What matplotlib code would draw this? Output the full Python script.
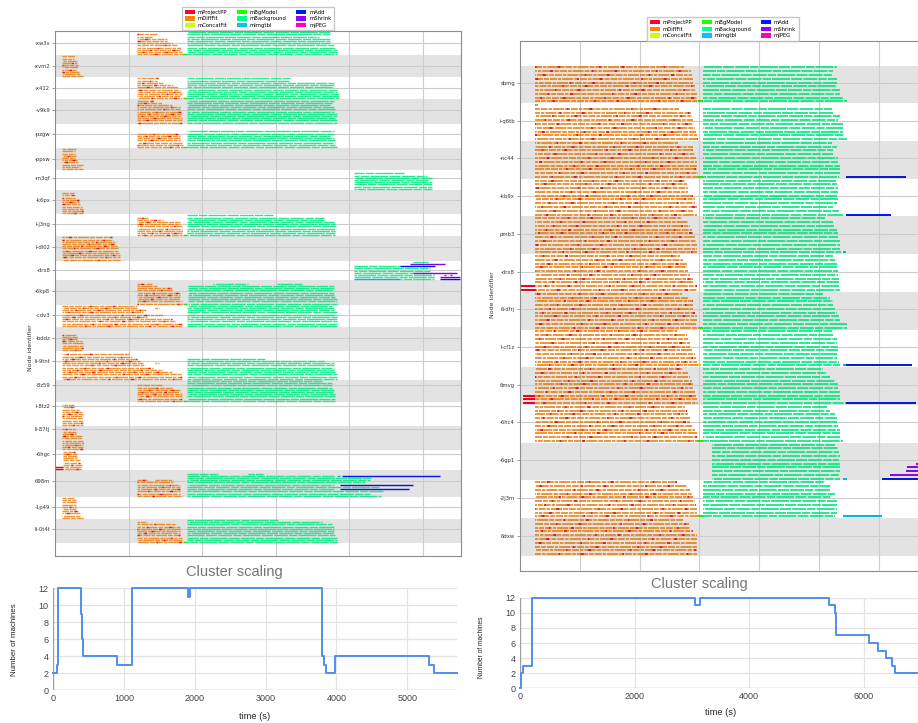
import numpy as np
import matplotlib.pyplot as plt
from matplotlib.patches import Patch

plt.rcParams['lines.scale_dashes'] = False

# ----------------------------------------------------------------------
# data (times in seconds)
# ----------------------------------------------------------------------
tasks = ["mProjectPP", "mDiffFit", "mConcatFit", "mBgModel", "mBackground",
         "mImgtbl", "mAdd", "mShrink", "mJPEG"]

# left run
left_nodes = ["-xw3v", "-xvm2", "-x412", "-v9k9", "-pzgw", "-ppsw", "-m3qf", "-k6px",
              "l-j3ng", "i-dl02", "-drx8", "-6kp8", "-cdv3", "-bddz", "li-9tnt", "-8z59",
              "l-8tz2", "li-87tj", "-6hgc", "698m", "-1p49", "li-0t4t"]
left_rows = [11, 10, 10, 11, 11, 10, 9, 11, 10, 11, 9, 11, 10, 11, 13, 10, 11, 11, 9, 12, 10, 11]
left_tick = [5.5, 4.7, 4.7, 5.0, 4.8, 4.8, 3.8, 4.7, 4.5, 4.8, 4.1, 4.8, 4.7, 5.2, 4.7,
             2.5, 2.0, 1.5, 1.7, 4.7, 4.5, 4.8]
left_early_start = [1120, 100, 1120, 1120, 1120, 91, None, 91, 1120, 91, None, 1111,
                    91, 91, 91, 1120, 91, 91, 113, 1120, 91, 1120]
left_early_end = [
    [1383, 1324, 1519, 1519, 1587, 1655, 1701, 1701, 1723, 1723],
    [272, 258, 304, 304, 317, 304, 304, 322, 340, 376],
    [1419, 1383, 1474, 1610, 1678, 1701, 1723, 1723, 1701, 1723],
    [1338, 1451, 1587, 1701, 1701, 1723, 1723, 1701, 1723, 1723, 1723],
    [1678, 1701, 1701, 1701, 1723, 1737, 1737],
    [286, 272, 272, 286, 272, 295, 317, 376, 340, 376],
    [],
    [258, 272, 272, 331, 331, 340, 363, 376, 376, 376],
    [1270, 1465, 1701, 1701, 1723, 1723, 1723, 1723, 1723],
    [771, 794, 816, 816, 839, 862, 862, 875, 884, 884, 884],
    [],
    [1315, 1383, 1587, 1587, 1701, 1701, 1701, 1701, 1723, 1723],
    [1111, 1111, 1247, 1202, 1474, 1247, 1587, 1633, 1723, 1723],
    [286, 295, 295, 363, 376, 376, 376, 376],
    [1020, 1043, 1111, 1156, 1202, 1224, 1338, 1474, 1587, 1723, 1723, 1723],
    [1451, 1610, 1701, 1701, 1723, 1723, 1723, 1723],
    [258, 272, 331, 363, 376, 376, 376, 385, 385, 385],
    [272, 286, 286, 363, 363, 385, 385, 385, 385, 385],
    [272, 295, 304, 304, 340, 340, 363, 363, 363],
    [1247, 1610, 1701, 1701, 1701, 1701, 1701, 1723],
    [258, 286, 286, 286, 286, 286, 317, 340, 340, 395],
    [1247, 1633, 1701, 1701, 1701, 1701, 1701, 1723, 1723, 1723],
]
left_bg_start = [1791, None, 1791, 1791, 1791, None, 4059, None, 1791, None, 4059, 1814,
                 1791, None, 1791, 1791, None, None, None, 1791, None, 1791]
left_bg_end = [
    [3741, 3741, 3583, 3741, 3741, 3741, 3787, 3809, 3832, 3832, 3832],
    [],
    [3197, 3175, 3787, 3787, 3787, 3832, 3832, 3855, 3855, 3855],
    [3787, 3764, 3741, 3787, 3809, 3787, 3832, 3832, 3809, 3832, 3832],
    [3787, 3787, 3741, 3787, 3809, 3809, 3809, 3832],
    [],
    [4739, 5057, 5125, 5070, 5125, 5125, 5125, 5125],
    [],
    [2970, 3651, 3651, 3809, 3809, 3823, 3823, 3809, 3800, 3800],
    [],
    [None, None, 4694, 5102, 5102, 4871, 5147, 5147, None],
    [3787, 3787, 3787, 3787, 3787, 3809, 3832, 3832, 3832],
    [3764, 3787, 3787, 3832, 3832, 3832, 3832, 3832, 3832, 3832],
    [],
    [2857, 3651, 3787, 3787, 3787, 3787, 3809, 3832, 3832, 3832],
    [3628, 3764, 3764, 3764, 3787, 3787, 3809, 3809, 3809, 3809],
    [],
    [],
    [],
    [None, 3787, 4308, 4286, 4218, 3787, 4399, 3787, 4458, 4277, 4435],
    [],
    [3038, 3628, 3764, 3787, 3787, 3787, 3787, 3809, 3832, 3832, 3832],
]
# (node, task, row counted from the bottom, start, end)
left_extra = [
    ("-xw3v", "mBgModel", 0, 1723, 1791),
    ("-x412", "mBgModel", 0, 1737, 1791),
    ("-pzgw", "mBgModel", 0, 1737, 1791),
    ("l-j3ng", "mBgModel", 0, 1737, 1791),
    ("-6kp8", "mBgModel", 0, 1737, 1791),
    ("-8z59", "mBgModel", 0, 1737, 1791),
    ("li-0t4t", "mBgModel", 0, 1737, 1791),
    ("-drx8", "mBackground", 8, 4870, 5065),
    ("-drx8", "mShrink", 7, 4821, 5306),
    ("-drx8", "mAdd", 6, 4694, 5170),
    ("-drx8", "mShrink", 3, 4871, 5469),
    ("-drx8", "mJPEG", 2, 5290, 5320),
    ("-drx8", "mJPEG", 2, 5370, 5395),
    ("-drx8", "mShrink", 1, 5238, 5510),
    ("-drx8", "mImgtbl", 0, 4059, 4694),
    ("-drx8", "mBackground", 0, 4694, 5147),
    ("-drx8", "mAdd", 0, 5238, 5510),
    ("-6kp8", "mBackground", 9, 2154, 2630),
    ("-6kp8", "mBackground", 9, 3016, 3356),
    ("-cdv3", "mDiffFit", 8, 1360, 1419),
    ("li-9tnt", "mDiffFit", 7, 1360, 1419),
    ("-6hgc", "mProjectPP", 1, 0, 113),
    ("-6hgc", "mProjectPP", 0, 0, 113),
    ("698m", "mDiffFit", 7, 1360, 1601),
    ("698m", "mBackground", 10, 1791, 2222),
    ("698m", "mBackground", 10, 2630, 2834),
    ("698m", "mImgtbl", 9, 3832, 3877),
    ("698m", "mAdd", 9, 3900, 5229),
    ("698m", "mAdd", 5, 3877, 4866),
    ("698m", "mAdd", 3, 3877, 4807),
]

# right run
right_nodes = ["sbmg", "i-q6tb", "-nc44", "-kb9x", "pmb3", "-drx8", "6-dfrj", "l-cf1z",
               "6mvg", "-6hc4", "-6gp1", "-2j3m", "6dxw"]
right_rows = [10, 10, 10, 10, 10, 10, 10, 10, 10, 10, 10, 10, 10]
right_tick = [4.6, 4.6, 4.6, 4.6, 4.6, 4.6, 4.6, 4.6, 4.6, 4.6, 4.6, 4.6, 4.6]
right_early_start = [251, 251, 251, 251, 251, 251, 251, 251, 251, 251, None, 251, 251]
right_early_end = [
    [2742, 2854, 2871, 2898, 2898, 2926, 2937, 2965, 2965, 2982],
    [306, 2664, 2854, 2871, 2898, 2898, 2926, 2954, 2965, 2982],
    [2648, 2898, 2898, 2926, 2943, 2954, 2965, 2965, 2982, 2982],
    [2759, 2787, 2815, 2815, 2898, 2926, 2926, 2965, 2898, 2954],
    [2703, 2815, 2843, 2871, 2898, 2926, 2943, 2965, 2965, 2965],
    [2676, 2731, 2787, 2798, 2815, 2843, 2898, 2898, 2965, 2965],
    [2703, 2832, 2898, 2898, 2898, 2926, 2954, 2954, 2965, 2999],
    [2620, 2787, 2815, 2843, 2843, 2898, 2926, 2943, 2965, 2982],
    [2731, 2815, 2843, 2871, 2898, 2898, 2926, 2954, 2965, 2982],
    [2759, 2787, 2815, 2843, 2843, 2898, 2926, 2954, 2954, 2965],
    [],
    [2620, 2787, 2843, 2871, 2898, 2926, 2943, 2965, 2965, 2982],
    [2720, 2832, 2843, 2898, 2954, 2965, 2965, 2965, 2965, 2982],
]
right_bg_start = [3054, 3054, 3054, 3054, 3054, 3054, 3054, 3054, 3054, 3054, 3205, 3054, None]
right_bg_end = [
    [5295, 5228, 5240, 5295, 5295, 5295, 5351, 5351, 5407, 5463],
    [None, 5212, 5228, 5351, 5323, 5407, 5407, 5407, 5407, 5463],
    [5212, 5295, 5228, 5240, 5323, 5323, 5351, 5351, 5351, 5340],
    [5295, 5295, 5312, 5312, 5295, 5323, 5295, 5240, 5340, 5396],
    [5100, 5240, 5267, 5295, 5323, 5323, 5351, 5351, 5351, 5368],
    [5240, 5267, 5295, 5295, 5312, 5323, 5340, 5340, 5340, 5351],
    [5072, 5184, 5228, 5240, 5267, 5295, 5340, 5351, 5463, 5463],
    [5212, 5228, 5295, 5295, 5323, 5323, 5295, 5295, 5340, 5351],
    [5072, 5128, 5184, 5267, 5323, 5323, 5351, 5351, 5351, 5451],
    [5128, 5184, 5267, 5295, 5295, 5323, 5351, 5351, 5351, 5407],
    [5267, 5323, 5340, 5351, 5340, 5351, 5351, 5351, 5351, 5351],
    [5100, 5184, 5184, 5267, 5184, 5295, 5295, 5295, 5295, 5267],
    [],
]
right_extra = [
    ("sbmg", "mBgModel", 0, 2982, 3054),
    ("-nc44", "mBgModel", 0, 2982, 3054),
    ("-nc44", "mAdd", 0, 5451, 6455),
    ("-kb9x", "mAdd", 0, 5451, 6198),
    ("pmb3", "mImgtbl", 0, 5396, 5451),
    ("-drx8", "mProjectPP", 1, 0, 251),
    ("-drx8", "mProjectPP", 0, 0, 251),
    ("6-dfrj", "mBgModel", 0, 2999, 3054),
    ("l-cf1z", "mConcatFit", 0, 2982, 3021),
    ("l-cf1z", "mImgtbl", 0, 5407, 5451),
    ("l-cf1z", "mAdd", 0, 5451, 6550),
    ("6mvg", "mProjectPP", 2, 56, 251),
    ("6mvg", "mProjectPP", 1, 56, 251),
    ("6mvg", "mProjectPP", 0, 56, 251),
    ("6mvg", "mAdd", 0, 5451, 6622),
    ("-6hc4", "mBgModel", 0, 2965, 3054),
    ("-6gp1", "mImgtbl", 0, 5396, 5463),
    ("-6gp1", "mAdd", 0, 6048, 6800),
    ("-6gp1", "mShrink", 1, 6187, 6800),
    ("-6gp1", "mShrink", 2, 6455, 6800),
    ("-6gp1", "mShrink", 3, 6466, 6800),
    ("-6gp1", "mShrink", 4, 6622, 6800),
    ("-2j3m", "mBgModel", 0, 2982, 3054),
    ("-2j3m", "mImgtbl", 0, 5407, 6048),
]

# cluster scaling (step changes)
left_scale_t = [0, 57, 64, 400, 410, 418, 906, 1108, 1114, 1905, 1928, 3800, 3830, 3848,
                3976, 5307, 5377, 5700]
left_scale_n = [2, 3, 12, 9, 6, 4, 3, 10, 12, 11, 12, 4, 3, 2, 4, 3, 2, 2]
right_scale_t = [0, 12, 47, 203, 3052, 3151, 5390, 5500, 5523, 6093, 6250, 6395, 6494,
                 6541, 7000]
right_scale_n = [0, 2, 3, 12, 11, 12, 11, 10, 7, 6, 5, 4, 3, 2, 2]

# ----------------------------------------------------------------------
# styling
# ----------------------------------------------------------------------
task_colors = dict(zip(tasks, plt.cm.gist_rainbow(np.linspace(0, 1, len(tasks)))))
# bars are drawn a touch darker than the legend patches, like the thin bars in the original
bar_colors = {t: tuple(np.array(c[:3]) * 0.9) for t, c in task_colors.items()}
dash = {"mDiffFit": (5, 0.7, 2.5, 0.7, 8, 0.7, 3.5, 0.7),
        "mBackground": (10, 0.8, 6, 0.8, 13, 0.8, 8, 0.8)}
alpha = {"mDiffFit": 0.78, "mBackground": 0.85}
red_dash = (1.2, 15, 2, 28)


def bar(ax, task, y, x0, x1, lw, n):
    if task in dash:
        ls = ((n * 3.7) % 20, dash[task])
    else:
        ls = '-'
    ax.hlines(y, x0, x1, colors=[bar_colors[task]], lw=lw, linestyles=[ls],
              alpha=alpha.get(task, 1.0), zorder=2)


def draw_gantt(ax, nodes, rows, tick_off, e_start, e_end, b_start, b_end, extras,
               grey_first, pad_top, pad_bottom, xmax, lw):
    rows = np.array(rows, dtype=float)
    tops = np.concatenate([[0.0], np.cumsum(rows)[:-1]])
    bottoms = tops + rows
    for i in range(len(nodes)):
        if (i % 2 == 0) == grey_first:
            ax.axhspan(tops[i], bottoms[i], color='#e3e3e3', lw=0, zorder=0)
    n = 0
    for i in range(len(nodes)):
        m = len(e_end[i])
        for j, end in enumerate(e_end[i]):
            y = bottoms[i] - 0.5 - (m - 1 - j)
            bar(ax, "mDiffFit", y, e_start[i], end, lw, n)
            ax.hlines(y, e_start[i], end, colors=[bar_colors["mProjectPP"]], lw=lw,
                      linestyles=[((n * 5.3) % 44, red_dash)], alpha=0.85, zorder=2)
            n += 1
        m = len(b_end[i])
        for j, end in enumerate(b_end[i]):
            if end is None:
                continue
            y = bottoms[i] - 0.5 - (m - 1 - j)
            bar(ax, "mBackground", y, b_start[i], end, lw, n)
            n += 1
    for node, task, k, x0, x1 in extras:
        i = nodes.index(node)
        bar(ax, task, bottoms[i] - 0.5 - k, x0, x1, lw, n)
        n += 1

    ax.set_xlim(0, xmax)
    ax.set_ylim(bottoms[-1] + pad_bottom, -pad_top)
    ax.set_xticks(np.arange(1000, xmax, 1000))
    ax.set_yticks(tops + np.array(tick_off))
    ax.set_yticklabels(nodes)
    ax.set_axisbelow(True)
    ax.grid(True, color='#cccccc', lw=0.8)
    ax.tick_params(axis='x', length=0, labelbottom=False)
    ax.tick_params(axis='y', length=2, width=0.5, color='#777777', labelsize=3.8,
                   pad=1.5, labelcolor='#333333')
    for s in ax.spines.values():
        s.set_color('#8c8c8c')
        s.set_linewidth(0.8)
    handles = [Patch(facecolor=task_colors[t], label=t) for t in tasks]
    ax.legend(handles=handles, ncol=3, fontsize=3.8, loc='lower center',
              bbox_to_anchor=(0.5, 1.0), borderaxespad=0.1, fancybox=False,
              edgecolor='#bbbbbb', handlelength=1.9, handleheight=0.9,
              handletextpad=0.6, columnspacing=1.7, labelspacing=0.3, borderpad=0.5)


def draw_scaling(ax, t, m, xmax, xstep):
    ax.step(t, m, where='post', color='#4f8ef0', lw=1.4, zorder=3, clip_on=False)
    ax.set_xlim(0, xmax)
    ax.set_ylim(0, 12)
    ax.set_yticks(range(0, 13, 2))
    ax.set_xticks(np.arange(0, xmax + 1, xstep))
    ax.grid(True, color='#e3e3e3', lw=0.9)
    for s in ax.spines.values():
        s.set_visible(False)
    ax.axhline(0, color='#9e9e9e', lw=0.9, zorder=2)
    ax.axvline(0, color='#9e9e9e', lw=0.9, zorder=2)
    ax.tick_params(length=0, labelsize=6.5, labelcolor='#444444', pad=3)
    for lab in ax.get_xticklabels() + ax.get_yticklabels():
        lab.set_family('Liberation Sans')


# ----------------------------------------------------------------------
# figure
# ----------------------------------------------------------------------
fig = plt.figure(figsize=(9.18, 7.23), dpi=100)
ax_l = fig.add_axes([0.0599, 0.2310, 0.4423, 0.7261])
ax_r = fig.add_axes([0.5664, 0.2102, 0.4423, 0.7325])
ax_ls = fig.add_axes([0.0577, 0.0456, 0.4401, 0.1411])
ax_rs = fig.add_axes([0.5664, 0.0484, 0.4368, 0.1245])

draw_gantt(ax_l, left_nodes, left_rows, left_tick, left_early_start, left_early_end,
           left_bg_start, left_bg_end, left_extra, False, 0.0, 5.8, 5520, 1.0)
draw_gantt(ax_r, right_nodes, right_rows, right_tick, right_early_start, right_early_end,
           right_bg_start, right_bg_end, right_extra, True, 6.4, 4.0, 6790, 1.4)

fig.text(0.0327, 0.5187, 'Node identifier', rotation=90, fontsize=4.5, color='#333333',
         ha='center', va='center')
fig.text(0.537, 0.593, 'Node identifier', rotation=90, fontsize=4.5, color='#333333',
         ha='center', va='center')

draw_scaling(ax_ls, left_scale_t, left_scale_n, 5700, 1000)
draw_scaling(ax_rs, right_scale_t, right_scale_n, 7000, 2000)

txt = dict(family='Liberation Sans', ha='center', va='center')
fig.text(0.2549, 0.2089, 'Cluster scaling', fontsize=10.5, color='#757575', **txt)
fig.text(0.7614, 0.1923, 'Cluster scaling', fontsize=10.5, color='#757575', **txt)
fig.text(0.2778, 0.0083, 'time (s)', fontsize=6.7, color='#222222', **txt)
fig.text(0.7854, 0.0152, 'time (s)', fontsize=6.7, color='#222222', **txt)
fig.text(0.0163, 0.1148, 'Number of machines', fontsize=5.7, color='#222222',
         rotation=90, **txt)
fig.text(0.524, 0.1051, 'Number of machines', fontsize=4.8, color='#222222',
         rotation=90, **txt)

fig.savefig('out.png', dpi=100)
plt.close()
